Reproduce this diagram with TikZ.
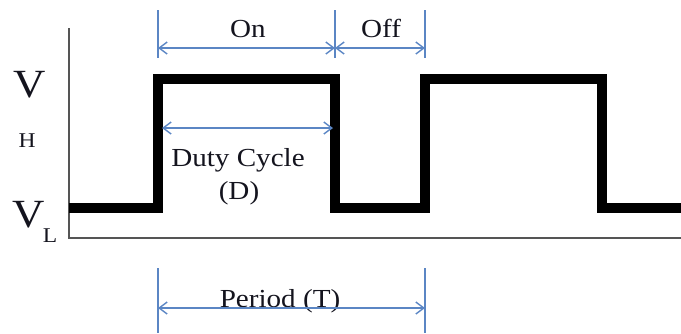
\documentclass[tikz,border=0pt]{standalone}
\usepackage{fontspec}
\setmainfont{Liberation Serif}[FakeStretch=1.12]
\usetikzlibrary{arrows.meta}
\definecolor{dimblue}{RGB}{91,134,196}
\definecolor{axisgray}{RGB}{85,85,85}
\definecolor{inkdark}{RGB}{20,20,30}
\begin{document}
\begin{tikzpicture}[x=1pt, y=-1pt, dim line/.style={dimblue, line width=1.4pt},
  dim arrow/.style={dim line, {Straight Barb[length=8pt,width=12pt]}-{Straight Barb[length=8pt,width=12pt]}},
  wave/.style={line width=9.5pt, line join=miter},
  txt/.style={inkdark, anchor=base, inner sep=0pt, font=\fontsize{26}{28}\selectfont},
  level/.style={txt, font=\fontsize{40}{42}\selectfont},
  sub level/.style={txt, font=\fontsize{21}{23}\selectfont}]
\useasboundingbox (0,0) rectangle (681,333);
\begin{scope}
\coordinate (ytop) at (69,28);
\coordinate (orig) at (69,238);
\coordinate (xend) at (681,238);
\coordinate (w0) at (69,208);
\coordinate (w1) at (158,208);
\coordinate (w2) at (158,79);
\coordinate (w3) at (335,79);
\coordinate (w4) at (335,208);
\coordinate (w5) at (425,208);
\coordinate (w6) at (425,79);
\coordinate (w7) at (602,79);
\coordinate (w8) at (602,208);
\coordinate (w9) at (681,208);
%\coordinate (w) at (,);
\end{scope}
\begin{scope}
\coordinate (t1a) at (158,10);
\coordinate (t1b) at (158,58);
\coordinate (t2a) at (335,10);
\coordinate (t2b) at (335,58);
\coordinate (t3a) at (425,10);
\coordinate (t3b) at (425,58);
\coordinate (p1a) at (158,268);
\coordinate (p1b) at (158,333);
\coordinate (p2a) at (425,268);
\coordinate (p2b) at (425,333);
\coordinate (on1) at (158,48);
\coordinate (on2) at (335,48);
\coordinate (off2) at (425,48);
\coordinate (d1) at (162,128);
\coordinate (d2) at (333,128);
\coordinate (per1) at (158,308);
\coordinate (per2) at (425,308);
\end{scope}
\begin{scope}
\node[level] (vh) at (30,97) {V};
\node[sub level] (h) at (27,147) {H};
\node[level] (vl) at (29,227) {V};
\node[sub level] (l) at (50,242) {L};
\node[txt] (on) at (248,37) {On};
\node[txt] (off) at (381,37) {Off};
\node[txt] (duty) at (238,166) {Duty Cycle};
\node[txt] (dd) at (239,199) {(D)};
\node[txt] (period) at (280,307) {Period (T)};
\end{scope}
\begin{scope}
\draw[axisgray, line width=2.5pt] (ytop) -- (orig) -- (xend);
\draw[wave] (w0) -- (w1) -- (w2) -- (w3) -- (w4) -- (w5) -- (w6) -- (w7) -- (w8) -- (w9);
\draw[dim line] (t1a) edge (t1b) (t2a) edge (t2b) (t3a) edge (t3b);
\draw[dim line] (p1a) edge (p1b) (p2a) edge (p2b);
\draw[dim arrow] (on1) -- (on2);
\draw[dim arrow] (on2) -- (off2);
\draw[dim arrow] (d1) -- (d2);
\draw[dim arrow] (per1) -- (per2);
\end{scope}
\end{tikzpicture}
\end{document}
